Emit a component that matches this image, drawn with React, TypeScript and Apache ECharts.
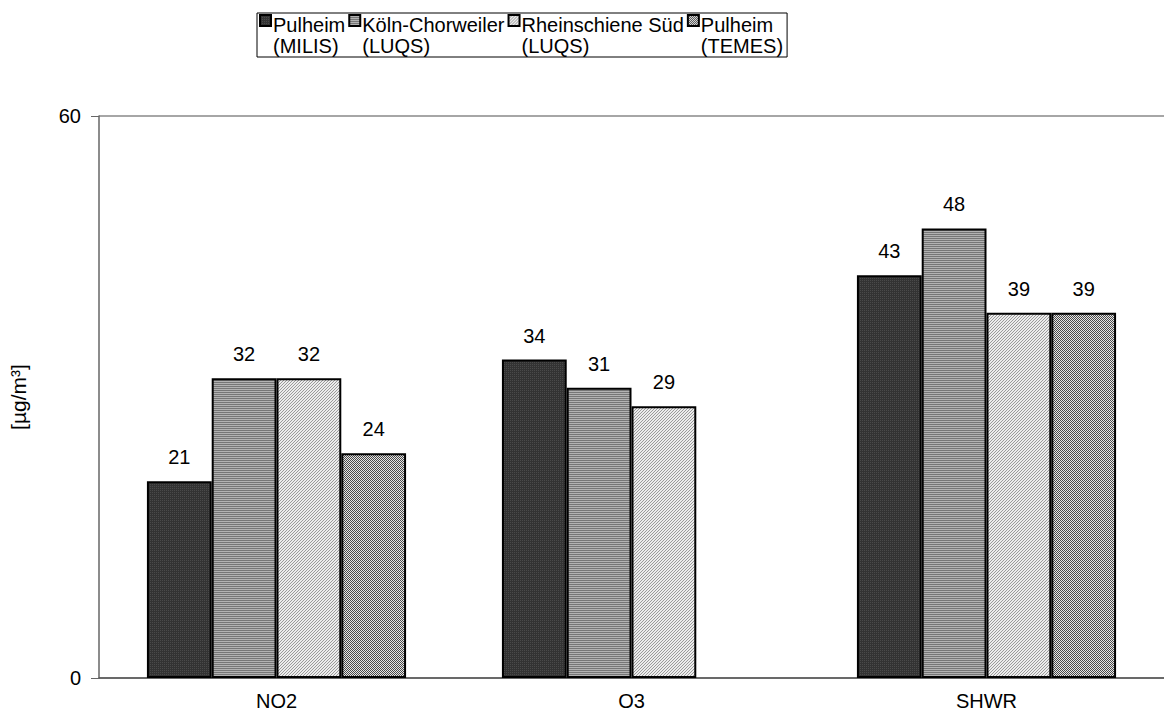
import React, { useEffect, useRef } from "react";
import * as echarts from "echarts";

const categories = ["NO2", "O3", "SHWR"];
const seriesNames = [
  "Pulheim\n(MILIS)",
  "Köln-Chorweiler\n(LUQS)",
  "Rheinschiene Süd\n(LUQS)",
  "Pulheim\n(TEMES)",
];
const pulheimMilis = [21, 34, 43];
const koelnChorweiler = [32, 31, 48];
const rheinschieneSued = [32, 29, 39];
const pulheimTemes = [24, null, 39];
const yTicks = [0, 60];

function makePattern(pixels: string[][]) {
  const h = pixels.length;
  const w = pixels[0].length;
  const c = document.createElement("canvas");
  c.width = w;
  c.height = h;
  const ctx = c.getContext("2d")!;
  for (let y = 0; y < h; y++) {
    for (let x = 0; x < w; x++) {
      ctx.fillStyle = pixels[y][x];
      ctx.fillRect(x, y, 1, 1);
    }
  }
  return { image: c.toDataURL(), repeat: "repeat", imageWidth: w, imageHeight: h } as any;
}

export default function App() {
  const ref = useRef<HTMLDivElement>(null);
  useEffect(() => {
    document.body.style.margin = "0";
    const chart = echarts.init(ref.current!, undefined, { renderer: "svg" });
    const d = "#333333", dl = "#4a4a4a";
    const p1 = makePattern([
      [dl, d],
      [d, d],
    ]);
    const p2 = makePattern([["#767676"], ["#b2b2b2"]]);
    const a = "#9a9a9a", l = "#ececec";
    const p3 = makePattern([
      [a, l, l],
      [l, l, a],
      [l, a, l],
    ]);
    const p4 = makePattern([
      ["#4a4a4a", "#e6e6e6"],
      ["#e6e6e6", "#4a4a4a"],
    ]);
    const patterns = [p1, p2, p3, p4];
    const datas = [pulheimMilis, koelnChorweiler, rheinschieneSued, pulheimTemes];
    const font = "Liberation Sans, Arial, sans-serif";
    const icon = "path://M0,0H11V11H0Z M0,41";

    chart.setOption({
      animation: false,
      textStyle: { fontFamily: font },
      legend: {
        left: 257,
        top: 13,
        orient: "horizontal",
        itemGap: 3,
        itemWidth: 11,
        itemHeight: 41,
        padding: [1, 4, 0, 2],
        borderColor: "#000",
        borderWidth: 1,
        icon,
        itemStyle: { borderWidth: 2, borderColor: "#000" },
        textStyle: { fontSize: 20, color: "#000", fontFamily: font, lineHeight: 20.5, padding: [0, 0, 0, -3] },
        data: seriesNames,
      },
      grid: { left: 98, top: 116, width: 1071, height: 562, containLabel: false },
      xAxis: {
        type: "category",
        data: categories,
        axisLine: { lineStyle: { color: "#555", width: 1.5 } },
        axisTick: { length: 8, lineStyle: { color: "#555" } },
        axisLabel: { fontSize: 20, color: "#000", margin: 13, fontFamily: font },
      },
      yAxis: {
        type: "value",
        min: yTicks[0],
        max: yTicks[1],
        interval: 60,
        name: "[µg/m³]",
        nameLocation: "middle",
        nameGap: 70,
        nameTextStyle: { fontSize: 21, color: "#000", fontFamily: font },
        axisLine: { show: true, lineStyle: { color: "#666", width: 1.5 } },
        axisTick: { show: true, length: 8, lineStyle: { color: "#666" } },
        axisLabel: { fontSize: 20, color: "#000", margin: 18, fontFamily: font },
        splitLine: { show: true, lineStyle: { color: "#888", width: 1.5 } },
      },
      series: seriesNames.map((name, i) => ({
        name,
        type: "bar",
        data: datas[i],
        barGap: "0%",
        barCategoryGap: "27%",
        itemStyle: { color: patterns[i], borderColor: "#000", borderWidth: 2 },
        label: {
          show: true,
          position: "top",
          distance: 14,
          fontSize: 20,
          color: "#000",
          fontFamily: font,
        },
      })),
    });
    return () => chart.dispose();
  }, []);
  return <div ref={ref} style={{ width: 1164, height: 727 }} />;
}
